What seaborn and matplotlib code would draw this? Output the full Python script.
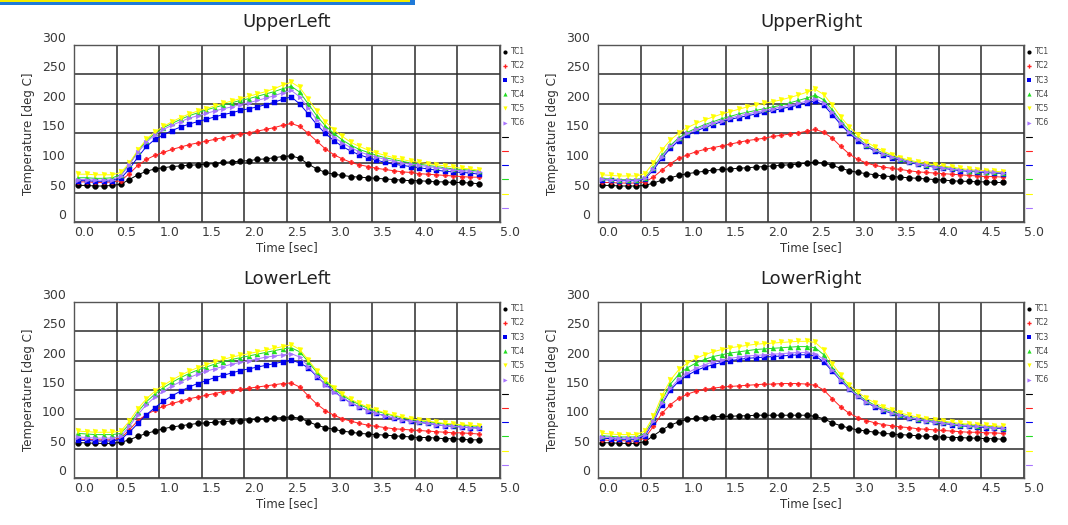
import numpy as np
import pandas as pd
import matplotlib
matplotlib.use("Agg")
import matplotlib.pyplot as plt
import seaborn as sns
from matplotlib.lines import Line2D
from matplotlib.patches import Rectangle

# ---------------- data ----------------
TIME = [0.05, 0.15, 0.25, 0.35, 0.45, 0.55, 0.65, 0.75, 0.85, 0.95,
        1.05, 1.15, 1.25, 1.35, 1.45, 1.55, 1.65, 1.75, 1.85, 1.95,
        2.05, 2.15, 2.25, 2.35, 2.45, 2.55, 2.65, 2.75, 2.85, 2.95,
        3.05, 3.15, 3.25, 3.35, 3.45, 3.55, 3.65, 3.75, 3.85, 3.95,
        4.05, 4.15, 4.25, 4.35, 4.45, 4.55, 4.65, 4.75]

SERIES = ["TC1", "TC2", "TC3", "TC4", "TC5", "TC6"]
PANELS = ["UpperLeft", "UpperRight", "LowerLeft", "LowerRight"]
X_TICKS = [0.0, 0.5, 1.0, 1.5, 2.0, 2.5, 3.0, 3.5, 4.0, 4.5, 5.0]
Y_TICKS = [0, 50, 100, 150, 200, 250, 300]

UL_TC1 = [62, 62, 61, 61, 62, 64, 72, 80, 86, 90, 92, 94, 95, 96, 97, 98, 99, 101, 102, 103, 104, 106, 107, 109, 111, 112, 108,
          98, 90, 84, 81, 79, 77, 76, 75, 74, 73, 72, 71, 70, 70, 69, 68, 68, 67, 67, 66, 65]
UL_TC2 = [68, 68, 67, 67, 68, 70, 82, 96, 106, 113, 118, 123, 127, 131, 134, 137, 140, 143, 146, 149, 151, 154, 157, 160, 164, 167, 162,
          150, 137, 124, 114, 107, 101, 97, 94, 91, 89, 87, 85, 84, 82, 81, 80, 79, 78, 77, 76, 76]
UL_TC3 = [70, 70, 69, 69, 70, 74, 90, 110, 128, 140, 148, 155, 161, 166, 170, 174, 178, 182, 185, 189, 192, 195, 199, 203, 208, 212, 200,
          183, 165, 150, 138, 128, 120, 114, 109, 105, 101, 98, 96, 94, 92, 90, 88, 86, 85, 84, 83, 81]
UL_TC4 = [75, 75, 74, 74, 75, 80, 98, 120, 138, 150, 160, 167, 174, 180, 185, 190, 194, 198, 202, 206, 209, 213, 217, 221, 226, 230, 220,
          200, 180, 163, 150, 139, 130, 123, 118, 113, 109, 106, 103, 100, 98, 96, 94, 92, 90, 89, 88, 86]
UL_TC5 = [81, 81, 80, 80, 80, 84, 100, 122, 140, 153, 162, 170, 177, 183, 188, 192, 197, 201, 205, 209, 213, 217, 221, 226, 232, 237, 228,
          208, 188, 170, 156, 145, 135, 128, 122, 117, 113, 109, 106, 103, 101, 99, 97, 95, 93, 91, 90, 88]
UL_TC6 = [72, 72, 71, 71, 72, 78, 97, 118, 135, 148, 157, 164, 170, 176, 180, 184, 188, 192, 195, 199, 202, 206, 210, 214, 219, 223, 212,
          193, 173, 157, 144, 134, 126, 119, 114, 110, 106, 103, 100, 98, 96, 94, 92, 90, 88, 87, 86, 84]

UR_TC1 = [62, 62, 61, 61, 61, 62, 66, 71, 75, 79, 82, 84, 86, 88, 89, 90, 91, 92, 93, 94, 95, 96, 97, 98, 100, 101, 100,
          96, 91, 87, 84, 82, 80, 78, 77, 76, 75, 74, 73, 72, 71, 70, 69, 69, 68, 68, 67, 67]
UR_TC2 = [67, 67, 66, 66, 66, 68, 76, 88, 99, 108, 114, 119, 123, 126, 129, 132, 135, 138, 140, 142, 145, 147, 149, 151, 154, 157, 152,
          142, 128, 115, 106, 100, 96, 93, 91, 89, 87, 85, 84, 83, 82, 81, 80, 79, 78, 77, 77, 76]
UR_TC3 = [72, 71, 70, 70, 70, 73, 88, 108, 125, 138, 147, 154, 160, 165, 170, 174, 177, 180, 183, 186, 189, 192, 195, 198, 202, 205, 198,
          182, 165, 150, 138, 128, 120, 114, 109, 105, 101, 98, 95, 93, 91, 89, 87, 86, 85, 84, 83, 82]
UR_TC4 = [74, 73, 72, 72, 72, 75, 92, 113, 130, 143, 152, 159, 165, 170, 175, 179, 183, 186, 189, 192, 195, 198, 202, 206, 210, 215, 207,
          190, 171, 155, 142, 131, 123, 117, 112, 107, 103, 100, 97, 95, 93, 91, 89, 87, 86, 85, 84, 83]
UR_TC5 = [80, 79, 78, 78, 78, 82, 100, 122, 139, 151, 160, 167, 173, 178, 183, 187, 191, 195, 198, 201, 204, 207, 211, 215, 220, 225, 216,
          198, 178, 161, 147, 136, 127, 120, 114, 109, 105, 102, 99, 97, 95, 93, 91, 89, 88, 87, 86, 85]
UR_TC6 = [73, 72, 71, 71, 71, 74, 90, 111, 128, 141, 150, 157, 163, 168, 172, 176, 180, 183, 186, 189, 192, 195, 198, 201, 205, 209, 202,
          186, 168, 152, 140, 130, 122, 116, 111, 106, 102, 99, 96, 94, 92, 90, 88, 87, 86, 85, 84, 83]

LL_TC1 = [60, 60, 59, 59, 59, 61, 65, 71, 76, 80, 84, 87, 89, 91, 93, 94, 95, 96, 97, 98, 99, 100, 101, 102, 103, 104, 102,
          96, 90, 86, 83, 80, 78, 76, 75, 74, 73, 72, 71, 70, 69, 69, 68, 67, 67, 66, 65, 65]
LL_TC2 = [66, 66, 65, 65, 65, 68, 82, 98, 108, 116, 122, 127, 131, 135, 138, 141, 144, 147, 149, 151, 153, 155, 157, 159, 161, 162, 155,
          140, 126, 115, 107, 101, 97, 93, 90, 88, 86, 84, 83, 82, 81, 80, 79, 78, 77, 77, 76, 75]
LL_TC3 = [64, 64, 63, 63, 63, 66, 78, 93, 108, 120, 131, 140, 148, 155, 161, 166, 171, 175, 179, 183, 186, 189, 192, 195, 198, 201, 196,
          188, 173, 160, 148, 137, 128, 121, 115, 110, 106, 102, 99, 97, 95, 93, 91, 89, 88, 87, 86, 85]
LL_TC4 = [76, 75, 74, 74, 74, 76, 92, 113, 130, 143, 154, 163, 171, 178, 184, 189, 194, 198, 202, 205, 208, 211, 214, 217, 220, 222, 215,
          198, 180, 165, 152, 141, 132, 125, 119, 114, 110, 106, 103, 100, 98, 96, 94, 92, 91, 90, 89, 88]
LL_TC5 = [80, 79, 78, 78, 78, 80, 97, 118, 135, 148, 158, 167, 175, 182, 188, 193, 198, 202, 206, 209, 212, 215, 218, 221, 224, 227, 219,
          201, 183, 167, 154, 143, 134, 127, 121, 116, 111, 107, 104, 101, 99, 97, 95, 93, 92, 91, 90, 89]
LL_TC6 = [70, 69, 68, 68, 68, 71, 88, 108, 125, 138, 148, 157, 164, 171, 177, 182, 186, 190, 194, 197, 200, 203, 206, 208, 210, 212, 206,
          190, 174, 159, 147, 137, 128, 121, 115, 110, 106, 102, 99, 97, 95, 93, 91, 89, 88, 87, 86, 85]

LR_TC1 = [60, 60, 59, 59, 59, 62, 72, 82, 90, 96, 100, 102, 103, 104, 105, 105, 106, 106, 107, 107, 107, 107, 107, 107, 107, 105, 101,
          94, 89, 85, 82, 80, 78, 76, 75, 74, 73, 72, 71, 70, 70, 69, 69, 68, 68, 67, 67, 66]
LR_TC2 = [65, 64, 64, 63, 63, 68, 88, 110, 125, 136, 143, 148, 151, 153, 155, 156, 157, 158, 159, 160, 160, 161, 161, 161, 160, 158, 150,
          135, 121, 110, 103, 98, 94, 91, 89, 87, 86, 84, 83, 82, 81, 80, 79, 78, 78, 77, 77, 76]
LR_TC3 = [68, 67, 66, 66, 66, 72, 95, 125, 150, 165, 175, 183, 189, 193, 197, 200, 202, 204, 205, 206, 207, 208, 209, 210, 210, 208, 198,
          182, 166, 151, 139, 129, 121, 115, 110, 106, 102, 99, 97, 95, 93, 91, 89, 88, 87, 86, 85, 84]
LR_TC4 = [72, 71, 70, 70, 70, 76, 100, 133, 160, 177, 188, 196, 202, 207, 210, 213, 215, 217, 219, 220, 221, 222, 223, 224, 224, 222, 210,
          188, 170, 154, 142, 132, 124, 118, 113, 108, 104, 101, 99, 97, 95, 93, 91, 90, 89, 88, 87, 86]
LR_TC5 = [76, 75, 74, 74, 74, 80, 105, 140, 167, 185, 196, 204, 210, 215, 219, 222, 224, 226, 228, 229, 230, 231, 232, 233, 233, 231, 218,
          195, 175, 158, 146, 136, 128, 121, 116, 111, 107, 104, 101, 99, 97, 95, 93, 92, 91, 90, 89, 88]
LR_TC6 = [70, 69, 68, 68, 68, 74, 97, 128, 153, 169, 179, 187, 193, 198, 201, 204, 206, 208, 209, 210, 211, 212, 213, 214, 214, 212, 202,
          184, 167, 152, 140, 130, 122, 116, 111, 107, 103, 100, 98, 96, 94, 92, 90, 89, 88, 87, 86, 85]

PANEL_DATA = {
    "UpperLeft": [UL_TC1, UL_TC2, UL_TC3, UL_TC4, UL_TC5, UL_TC6],
    "UpperRight": [UR_TC1, UR_TC2, UR_TC3, UR_TC4, UR_TC5, UR_TC6],
    "LowerLeft": [LL_TC1, LL_TC2, LL_TC3, LL_TC4, LL_TC5, LL_TC6],
    "LowerRight": [LR_TC1, LR_TC2, LR_TC3, LR_TC4, LR_TC5, LR_TC6],
}

# ---------------- style ----------------
COLORS = ["#000000", "#ff2020", "#0000ee", "#22dd22", "#ffff00", "#a874ff"]
MARKERS = ["o", "P", "s", "^", "v", ">"]
MSIZES = [4.2, 3.4, 3.6, 3.6, 3.6, 3.4]

sns.set_style("white")
plt.rcParams["font.family"] = ["DejaVu Sans"]

W, H = 1068, 525
fig = plt.figure(figsize=(W / 100, H / 100), dpi=100)

# header strip remnant (blue box with yellow fill) at top-left
fig.patches.append(Rectangle((0, 1 - 5 / H), 415 / W, 5 / H, transform=fig.transFigure,
                             facecolor="#1f7ad8", edgecolor="none", zorder=0))
fig.patches.append(Rectangle((0, 1 - 2 / H), 410 / W, 2 / H, transform=fig.transFigure,
                             facecolor="#f4ec00", edgecolor="none", zorder=1))

def rect(left, top, right, bottom):
    return [left / W, 1 - bottom / H, (right - left) / W, (bottom - top) / H]

POS = {
    "UpperLeft": rect(74, 45, 500, 222),
    "UpperRight": rect(598, 45, 1024, 222),
    "LowerLeft": rect(74, 302, 500, 478),
    "LowerRight": rect(598, 302, 1024, 478),
}

for panel in PANELS:
    ax = fig.add_axes(POS[panel])
    for name, vals, c, m, ms in zip(SERIES, PANEL_DATA[panel], COLORS, MARKERS, MSIZES):
        df = pd.DataFrame({"Time": TIME, "Temp": vals})
        sns.lineplot(data=df, x="Time", y="Temp", color=c, marker=m, markersize=ms,
                     markeredgewidth=0.3, markeredgecolor=c, linewidth=0.7, ax=ax)
    ax.set_xlim(0, 5)
    ax.set_ylim(0, 300)
    ax.set_xticks(X_TICKS)
    ax.set_xticklabels([f"{v:.1f}" for v in X_TICKS])
    ax.set_yticks(Y_TICKS)
    ax.set_yticklabels([str(v) for v in Y_TICKS])
    ax.grid(True, color="#2b2b2b", linewidth=1.1)
    ax.set_axisbelow(True)
    for s in ax.spines.values():
        s.set_color("#555555")
        s.set_linewidth(1.0)
    ax.tick_params(axis="both", length=0, labelsize=9, colors="#3a3a3a")
    ax.tick_params(axis="x", pad=3)
    ax.tick_params(axis="y", pad=6)
    for lbl in ax.get_xticklabels():
        lbl.set_ha("left")
    for lbl in ax.get_yticklabels():
        lbl.set_va("bottom")
    ax.set_title(panel, fontsize=13, color="#222222", pad=13)
    ax.set_xlabel("Time [sec]", fontsize=8.5, color="#333333", labelpad=1)
    ax.set_ylabel("Temperature [deg C]", fontsize=8.5, color="#333333", labelpad=5)

    handles = [Line2D([], [], ls="none", marker=m, color=c, markersize=3, markeredgewidth=0)
               for c, m in zip(COLORS, MARKERS)]
    handles += [Line2D([], [], color=c, linewidth=0.8) for c in COLORS]
    labels = SERIES + [""] * len(SERIES)
    leg = ax.legend(handles, labels, loc="upper left", bbox_to_anchor=(1.0, 1.0),
                    frameon=False, fontsize=5.5, handlelength=0.7, handletextpad=0.5,
                    labelspacing=0.68, borderaxespad=0.1, borderpad=0.2, numpoints=1)
    for t in leg.get_texts():
        t.set_color("#444444")

fig.savefig("out.png", dpi=100)
